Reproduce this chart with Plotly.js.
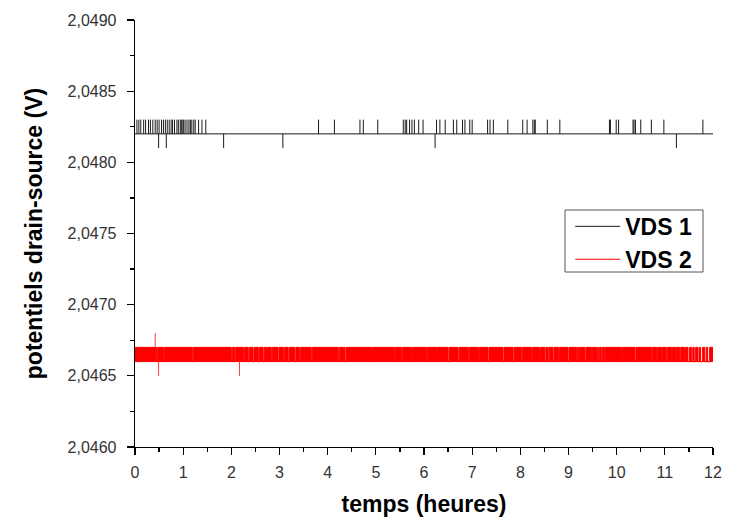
<!DOCTYPE html>
<html>
<head>
<meta charset="utf-8">
<script src="https://cdn.plot.ly/plotly-3.0.1.min.js"></script>
<style>html,body{margin:0;padding:0;background:#fff;}#chart{width:737px;height:520px;}</style>
</head>
<body>
<div id="chart"></div>
<script>
// ---- data (time in hours, potentials in V) ----
const xTicks = [0,1,2,3,4,5,6,7,8,9,10,11,12];
const xMinorTicks = [0.5,1.5,2.5,3.5,4.5,5.5,6.5,7.5,8.5,9.5,10.5,11.5];
const yTicks = [2.0460,2.0465,2.0470,2.0475,2.0480,2.0485,2.0490];
const yMinorTicks = [2.04625,2.04675,2.04725,2.04775,2.04825,2.04875];

// VDS 1: baseline level with quantised toggles of one LSB
const vds1Base = 2.0482;
const vds1High = 2.0483;
const vds1Low  = 2.0481;
const vds1UpTimes = [0.04,0.08,0.12,0.18,0.22,0.28,0.32,0.37,0.42,0.46,0.50,0.55,0.59,0.63,0.67,0.71,0.75,0.78,0.82,0.87,0.90,0.94,0.96,0.98,1.01,1.04,1.08,1.12,1.15,1.18,1.22,1.25,1.32,1.39,1.47,
  3.81,4.14,4.67,4.74,5.04,5.57,5.61,5.64,5.70,5.75,5.80,5.89,5.98,6.26,6.33,6.44,6.61,6.68,6.80,6.85,6.95,7.00,7.32,7.37,7.44,7.74,
  8.05,8.14,8.26,8.29,8.31,8.56,8.82,9.85,9.87,9.99,10.04,10.34,10.36,10.39,10.50,10.72,10.98,11.79];
const vds1DownTimes = [0.49,0.65,1.84,3.07,6.23,11.24];

// VDS 2: toggling continuously between two levels (drawn as a band), with short quiet gaps
const vds2Low  = 2.0466;
const vds2High = 2.0467;
const vds2Gaps = [[0.45,0.47],[0.59,0.61],[1.19,1.21],[2.00,2.02],[2.07,2.09],[2.25,2.27],[2.35,2.37],[2.45,2.47],[2.56,2.58],[2.66,2.68],[2.73,2.75],[2.83,2.85],[2.97,2.99],[3.08,3.10],[3.18,3.20],[3.32,3.34],[3.42,3.44],[3.66,3.68],
  [4.22,4.24],[4.36,4.38],[4.91,4.93],[5.39,5.41],[5.53,5.55],[5.74,5.76],[6.05,6.07],[6.26,6.28],[6.50,6.52],[6.71,6.73],[6.92,6.94],[7.13,7.15],[7.33,7.35],[7.64,7.66],[7.85,7.87],[8.02,8.04],[8.23,8.25],
  [8.40,8.42],[8.51,8.53],[8.58,8.60],[8.68,8.70],[8.79,8.81],[8.99,9.01],[9.17,9.19],[9.23,9.25],[9.34,9.36],[9.48,9.50],[9.58,9.60],[9.62,9.64],[9.68,9.70],[9.75,9.77],[10.10,10.12],[10.38,10.40],
  [10.72,10.74],[10.83,10.85],[10.93,10.95],[11.03,11.05],[11.14,11.16],[11.22,11.24],[11.31,11.33],[11.41,11.43],[11.48,11.51],[11.55,11.58],[11.61,11.64],[11.69,11.72],[11.74,11.78],[11.83,11.86],[11.89,11.93]];
const vds2SpikeTimes  = [0.42,0.49,2.17];
const vds2SpikeValues = [2.0468,2.0465,2.0465];
const tStart = 0, tEnd = 12;

// ---- build traces ----
function spikeLine(base, times, level) {
  const x = [], y = [];
  times.forEach(t => { x.push(t, t, null); y.push(base, level, null); });
  return {x, y};
}
const v1x = [tStart, tEnd, null], v1y = [vds1Base, vds1Base, null];
const up = spikeLine(vds1Base, vds1UpTimes, vds1High);
const dn = spikeLine(vds1Base, vds1DownTimes, vds1Low);

const v2x = [tStart], v2y = [vds2High];
vds2Gaps.forEach(g => { v2x.push(g[0], g[0], g[1], g[1]); v2y.push(vds2High, vds2Low, vds2Low, vds2High); });
v2x.push(tEnd); v2y.push(vds2High);

const sx = [], sy = [];
vds2SpikeTimes.forEach((t,i) => { sx.push(t, t, null); sy.push(vds2SpikeValues[i] > vds2High ? vds2High : vds2Low, vds2SpikeValues[i], null); });

const traces = [
  {x: v1x.concat(up.x, dn.x), y: v1y.concat(up.y, dn.y), mode: 'lines', name: 'VDS 1',
   line: {color: '#1a1a1a', width: 1}, connectgaps: false},
  {x: [tStart, tEnd], y: [vds2Low, vds2Low], mode: 'lines', name: 'VDS 2',
   line: {color: 'rgb(255,0,0)', width: 1}},
  {x: v2x, y: v2y, mode: 'lines', fill: 'tonexty', fillcolor: 'rgb(255,0,0)', showlegend: false,
   line: {color: 'rgb(255,0,0)', width: 1}},
  {x: sx, y: sy, mode: 'lines', showlegend: false, line: {color: 'rgb(255,60,60)', width: 1}}
];

const font = 'Liberation Sans, Arial, sans-serif';
const layout = {
  width: 737, height: 520,
  margin: {l: 135, r: 24, t: 20, b: 73},
  paper_bgcolor: '#fff', plot_bgcolor: '#fff',
  separators: ', ',
  font: {family: font, color: '#000'},
  showlegend: true,
  legend: {x: 0.753, y: 0.567, xanchor: 'left', yanchor: 'top', borderwidth: 0, traceorder: 'normal', itemwidth: 45,
           bgcolor: 'rgba(0,0,0,0)', font: {family: font, size: 23, color: '#000', weight: 'bold'}, tracegroupgap: 0},
  shapes: [{type: 'rect', xref: 'paper', yref: 'paper', x0: (565-135)/578, x1: (703-135)/578, y0: (447-272)/427, y1: (447-210)/427,
            line: {color: '#555', width: 1}, fillcolor: 'rgba(0,0,0,0)', layer: 'above'}],
  xaxis: {range: [0, 12], tickvals: xTicks, ticktext: xTicks.map(String), showgrid: false, zeroline: false,
          showline: true, linecolor: '#000', linewidth: 1.3, ticks: 'outside', ticklen: 7, tickwidth: 1.3, tickcolor: '#000',
          ticklabelstandoff: 3,
          minor: {tickvals: xMinorTicks, ticks: 'outside', ticklen: 4, tickwidth: 1.2, tickcolor: '#000'},
          tickfont: {family: font, size: 16, color: '#333'},
          title: {text: 'temps (heures)', standoff: 16, font: {family: font, size: 23, color: '#000', weight: 'bold'}}},
  yaxis: {range: [2.0460, 2.0490], tickvals: yTicks, tickformat: '.4f', showgrid: false, zeroline: false,
          showline: true, linecolor: '#000', linewidth: 1.3, ticks: 'outside', ticklen: 7, tickwidth: 1.3, tickcolor: '#000',
          ticklabelstandoff: 7,
          minor: {tickvals: yMinorTicks, ticks: 'outside', ticklen: 4, tickwidth: 1.2, tickcolor: '#000'},
          tickfont: {family: font, size: 16, color: '#333'},
          title: {text: 'potentiels drain-source (V)', standoff: 18, font: {family: font, size: 23, color: '#000', weight: 'bold'}}}
};
Plotly.newPlot('chart', traces, layout, {staticPlot: true, displayModeBar: false});
</script>
</body>
</html>
